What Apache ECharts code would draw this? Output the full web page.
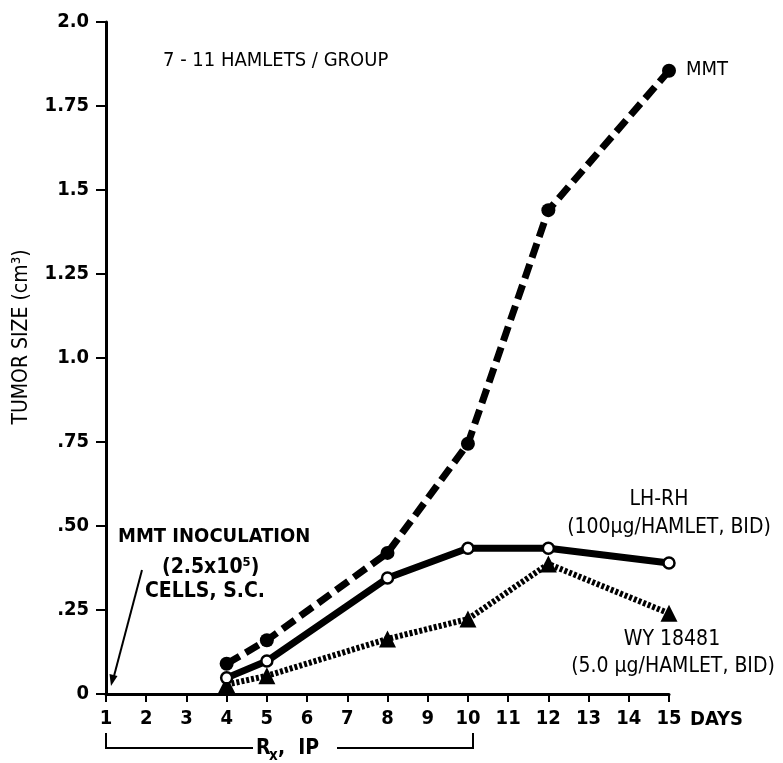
<!DOCTYPE html>
<html>
<head>
<meta charset="utf-8">
<script src="https://cdn.jsdelivr.net/npm/echarts@6/dist/echarts.min.js"></script>
<style>
html,body{margin:0;padding:0;background:#fff;}
#c{width:783px;height:763px;}
</style>
</head>
<body>
<div id="c"></div>
<script>
var days = [4, 5, 8, 10, 12, 15];
var mmt = [0.09, 0.16, 0.42, 0.745, 1.44, 1.855];
var lhrh = [0.048, 0.098, 0.345, 0.434, 0.434, 0.39];
var wy = [0.028, 0.054, 0.164, 0.223, 0.387, 0.24];
var yTickLabels = {'0': '0', '0.25': '.25', '0.5': '.50', '0.75': '.75', '1': '1.0', '1.25': '1.25', '1.5': '1.5', '1.75': '1.75', '2': '2.0'};

var FONT = '"Liberation Sans Narrow", "DejaVu Sans Condensed", sans-serif';
function pairs(ys) { return days.map(function (d, i) { return [d, ys[i]]; }); }

var chart = echarts.init(document.getElementById('c'));
chart.setOption({
  animation: false,
  backgroundColor: '#fff',
  grid: { left: 106, right: 114, top: 22, bottom: 69, containLabel: false, outerBoundsMode: 'none' },
  xAxis: {
    type: 'value', min: 1, max: 15, interval: 1,
    axisLine: { lineStyle: { color: '#000', width: 3 } },
    axisTick: { length: 8, lineStyle: { color: '#000', width: 2 } },
    axisLabel: { color: '#000', fontFamily: FONT, fontWeight: 'bold', fontSize: 20, margin: 15 },
    splitLine: { show: false }
  },
  yAxis: {
    type: 'value', min: 0, max: 2, interval: 0.25,
    axisLine: { show: true, lineStyle: { color: '#000', width: 3 } },
    axisTick: { show: true, length: 10, lineStyle: { color: '#000', width: 2 } },
    axisLabel: {
      color: '#000', fontFamily: FONT, fontWeight: 'bold', fontSize: 20, margin: 17,
      formatter: function (v) { return yTickLabels[String(v)] || ''; }
    },
    splitLine: { show: false }
  },
  series: [
    {
      name: 'MMT', type: 'line', data: pairs(mmt),
      lineStyle: { color: '#000', width: 7, type: [15, 7] },
      symbol: 'circle', symbolSize: 14,
      itemStyle: { color: '#000' }, z: 3
    },
    {
      name: 'LH-RH', type: 'line', data: pairs(lhrh),
      lineStyle: { color: '#000', width: 7 },
      symbol: 'circle', symbolSize: 11,
      itemStyle: { color: '#fff', borderColor: '#000', borderWidth: 2.5 }, z: 4
    },
    {
      name: 'WY 18481', type: 'line', data: pairs(wy),
      lineStyle: { color: '#000', width: 6, type: [3, 2] },
      symbol: 'triangle', symbolSize: 17,
      itemStyle: { color: '#000' }, z: 2
    }
  ],
  graphic: [
    { type: 'text', x: 22, y: 337, rotation: Math.PI / 2, style: { text: 'TUMOR SIZE (cm³)', font: '21px ' + FONT, fill: '#000', textAlign: 'center', textVerticalAlign: 'middle' } },
    { type: 'text', x: 163, y: 61, style: { text: '7 - 11 HAMLETS / GROUP', font: '20px ' + FONT, fill: '#000', textVerticalAlign: 'middle' } },
    { type: 'text', x: 686, y: 70, style: { text: 'MMT', font: '20px ' + FONT, fill: '#000', textVerticalAlign: 'middle' } },
    { type: 'text', x: 659, y: 500, style: { text: 'LH-RH', font: '21px ' + FONT, fill: '#000', textAlign: 'center', textVerticalAlign: 'middle' } },
    { type: 'text', x: 669, y: 528, style: { text: '(100µg/HAMLET, BID)', font: '21px ' + FONT, fill: '#000', textAlign: 'center', textVerticalAlign: 'middle' } },
    { type: 'text', x: 672, y: 640, style: { text: 'WY 18481', font: '21px ' + FONT, fill: '#000', textAlign: 'center', textVerticalAlign: 'middle' } },
    { type: 'text', x: 673, y: 667, style: { text: '(5.0 µg/HAMLET, BID)', font: '21px ' + FONT, fill: '#000', textAlign: 'center', textVerticalAlign: 'middle' } },
    { type: 'text', x: 118, y: 537, style: { text: 'MMT INOCULATION', font: 'bold 20px ' + FONT, fill: '#000', textVerticalAlign: 'middle' } },
    { type: 'text', x: 162, y: 568, style: { text: '(2.5x10⁵)', font: 'bold 21px ' + FONT, fill: '#000', textVerticalAlign: 'middle' } },
    { type: 'text', x: 145, y: 592, style: { text: 'CELLS, S.C.', font: 'bold 21px ' + FONT, fill: '#000', textVerticalAlign: 'middle' } },
    { type: 'line', shape: { x1: 142, y1: 570, x2: 114, y2: 676 }, style: { stroke: '#000', lineWidth: 2 } },
    { type: 'polygon', shape: { points: [[111, 686], [109.5, 674], [117.5, 676]] }, style: { fill: '#000' } },
    { type: 'text', x: 690, y: 720, style: { text: 'DAYS', font: 'bold 20px ' + FONT, fill: '#000', textVerticalAlign: 'middle' } },
    { type: 'polyline', shape: { points: [[106, 733], [106, 748], [253, 748]] }, style: { stroke: '#000', lineWidth: 2, fill: null } },
    { type: 'polyline', shape: { points: [[337, 748], [473, 748], [473, 733]] }, style: { stroke: '#000', lineWidth: 2, fill: null } },
    { type: 'text', x: 256, y: 749, style: { text: 'R', font: 'bold 21px ' + FONT, fill: '#000', textVerticalAlign: 'middle' } },
    { type: 'text', x: 269, y: 756, style: { text: 'x', font: 'bold 15px ' + FONT, fill: '#000', textVerticalAlign: 'middle' } },
    { type: 'text', x: 278, y: 749, style: { text: ',  IP', font: 'bold 21px ' + FONT, fill: '#000', textVerticalAlign: 'middle' } }
  ]
});
</script>
</body>
</html>
